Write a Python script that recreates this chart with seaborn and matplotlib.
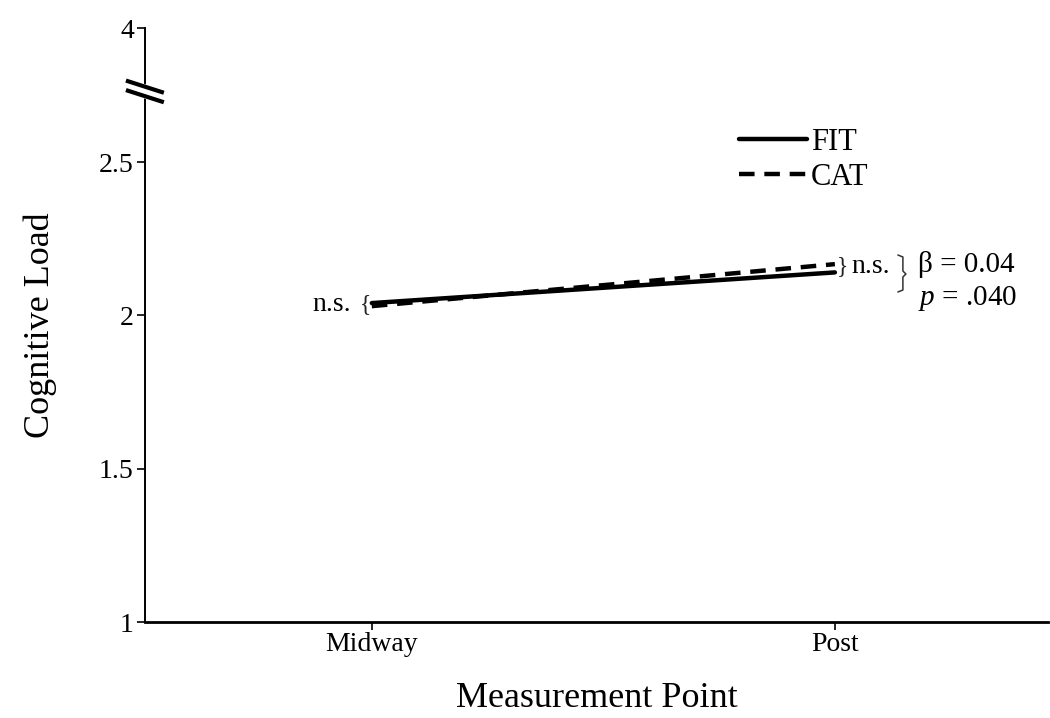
import matplotlib
matplotlib.use("Agg")
import matplotlib.pyplot as plt
import seaborn as sns
import pandas as pd

# ---- data ----
points = ["Midway", "Post"]
fit_load = [2.04, 2.14]
cat_load = [2.03, 2.167]
groups = ["FIT", "CAT"]
ytick_pos = [1.0, 1.5, 2.0, 2.5, 2.937]   # axis break: "4" drawn just above 2.5
ytick_labels = ["1", "1.5", "2", "2.5", "4"]

df = pd.DataFrame({
    "Measurement Point": points * 2,
    "Cognitive Load": fit_load + cat_load,
    "Group": [groups[0]] * 2 + [groups[1]] * 2,
})

sns.set_theme(style="white")
plt.rcParams["font.family"] = ["Liberation Serif", "DejaVu Serif"]
plt.rcParams["mathtext.fontset"] = "custom"
plt.rcParams["mathtext.rm"] = "Liberation Serif"
plt.rcParams["mathtext.it"] = "Liberation Serif:italic"
plt.rcParams["text.color"] = "black"
plt.rcParams["axes.labelcolor"] = "black"
plt.rcParams["xtick.color"] = "black"
plt.rcParams["ytick.color"] = "black"

fig = plt.figure(figsize=(10.5, 7.18), dpi=100)
ax = fig.add_axes([0.138, 0.1337, 0.860, 0.8273])

sns.lineplot(data=df, x="Measurement Point", y="Cognitive Load", hue="Group",
             style="Group", palette={"FIT": "black", "CAT": "black"},
             dashes={"FIT": "", "CAT": (3.5, 2.2)}, linewidth=3.2,
             markers=False, ax=ax, legend=True, sort=False)

ax.set_xlim(-0.49, 1.46)
ax.set_ylim(1.0, 2.937)
ax.set_yticks(ytick_pos)
ax.set_yticklabels(ytick_labels)

for s in ["top", "right"]:
    ax.spines[s].set_visible(False)
ax.spines["left"].set_color("black")
ax.spines["bottom"].set_color("black")
ax.spines["left"].set_linewidth(1.4)
ax.spines["bottom"].set_linewidth(2.0)
ax.tick_params(axis="both", which="major", direction="out", length=6, width=1.2,
               colors="black", labelsize=20, left=True, bottom=True)
ax.tick_params(axis="y", pad=2)
ax.tick_params(axis="x", pad=1)

ax.set_xlabel("Measurement Point", fontsize=26, labelpad=18, color="black")
ax.set_ylabel("Cognitive Load", fontsize=26, labelpad=30, color="black")

# legend
leg = ax.legend(loc="center left", bbox_to_anchor=(0.627, 0.778), frameon=False,
                fontsize=22, handlelength=2.25, handletextpad=0.12,
                labelspacing=0.19)
for t in leg.get_texts():
    t.set_color("black")
for h in leg.get_lines():
    h.set_linewidth(3.2)

# axis break marks
trans = ax.transAxes
ax.plot([-0.021, 0.021], [0.9035, 0.883], transform=trans, color="white",
        lw=10, clip_on=False, solid_capstyle="butt", zorder=5)
ax.plot([-0.021, 0.021], [0.9115, 0.891], transform=trans, color="black",
        lw=3.0, clip_on=False, solid_capstyle="butt", zorder=6)
ax.plot([-0.021, 0.021], [0.8955, 0.875], transform=trans, color="black",
        lw=3.0, clip_on=False, solid_capstyle="butt", zorder=6)

# annotations
ax.text(-0.045, 2.035, "n.s.", ha="right", va="center", fontsize=20)
ax.text(-0.002, 2.035, "{", ha="right", va="center", fontsize=17,
        color="#222222")
ax.text(1.005, 2.16, "}", ha="left", va="center", fontsize=17, color="#222222")
ax.text(1.035, 2.16, "n.s.", ha="left", va="center", fontsize=20)

# thin tall brace spanning both statistics lines
def px(xp, yp):
    return ((xp - 145) / 903.0, (622 - yp) / 594.0)
brace = [px(898, 255), px(903, 257), px(903, 271), px(906, 274),
         px(903, 277), px(903, 290), px(898, 292)]
ax.plot([p[0] for p in brace], [p[1] for p in brace], transform=trans,
        color="#333333", lw=1.1, clip_on=False)

ax.text(1.18, 2.165, r"β = 0.04", ha="left", va="center", fontsize=21)
ax.text(1.18, 2.055, r"$\mathit{p}$ = .040", ha="left", va="center", fontsize=21)

fig.savefig("out.png", dpi=100, facecolor="white")
